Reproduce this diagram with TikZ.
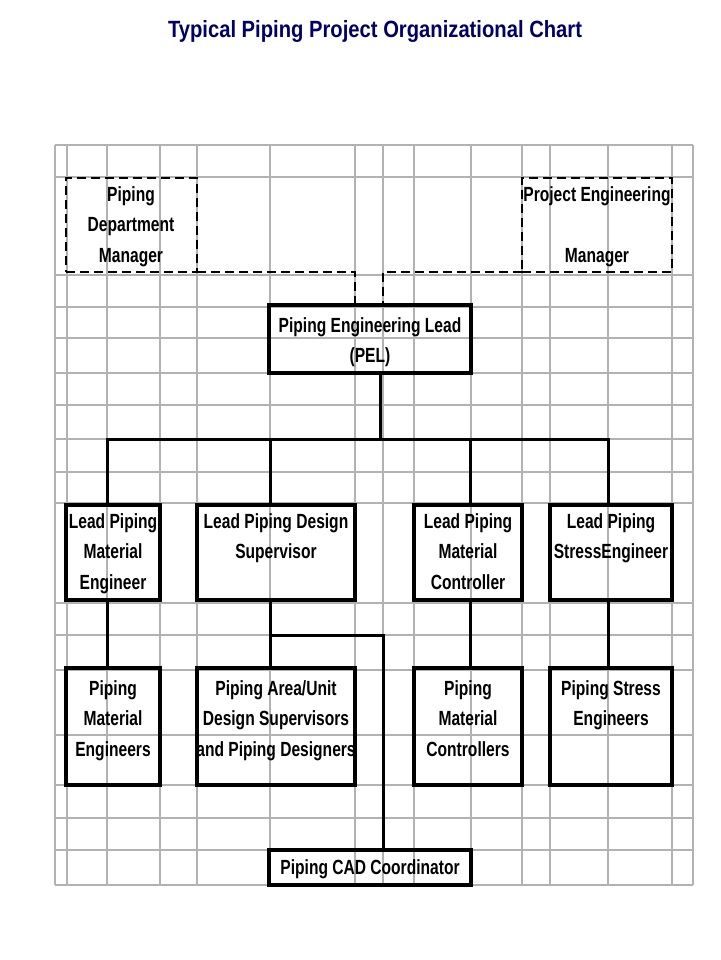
\documentclass[tikz,border=0pt]{standalone}
\usepackage{fontspec}
\setmainfont{Liberation Sans}[FakeStretch=0.76]
\newfontfamily\titlefont{Liberation Sans}[FakeStretch=0.86]
\begin{document}
\begin{tikzpicture}[x=1pt,y=-1pt,
  grid/.style={draw=gray!60,line width=1.3pt},
  box/.style={draw=black,line width=3.5pt,inner sep=0pt,outer sep=0pt,anchor=north west},
  dbox/.style={draw=black,line width=2.5pt,dash pattern=on 9pt off 5pt,inner sep=0pt,outer sep=0pt,anchor=north west},
  conn/.style={line width=3pt},
  dconn/.style={line width=2.5pt,dash pattern=on 9pt off 5pt},
  txt/.style={font=\bfseries\fontsize{20.5}{30.5}\selectfont,align=center,anchor=north,inner sep=0pt}]
\useasboundingbox (0,0) rectangle (720,960);
\fill[white] (0,0) rectangle (720,960);
\node[font=\titlefont\bfseries\fontsize{23.5}{26}\selectfont,text=blue!40!black] (title) at (375,31) {Typical Piping Project Organizational Chart};
% grid
\foreach \x in {55,67,107,160,197,270,355,383,414,471,522,550,608,672,693}
  \draw[grid] (\x,145) -- (\x,885);
\foreach \y in {145,177,275,307,338,373,405,439,472,503,603,635,670,735,785,818,850,885}
  \draw[grid] (55,\y) -- (693,\y);
% boxes
\node[dbox,minimum width=131pt,minimum height=94pt] (pdm) at (66,178) {};
\node[dbox,minimum width=150pt,minimum height=94pt] (pem) at (522,178) {};
\node[box,minimum width=202pt,minimum height=68pt] (pel) at (269,305) {};
\node[box,minimum width=94pt,minimum height=95pt] (lpme) at (66,505) {};
\node[box,minimum width=158pt,minimum height=95pt] (lpds) at (197,505) {};
\node[box,minimum width=108pt,minimum height=95pt] (lpmc) at (414,505) {};
\node[box,minimum width=122pt,minimum height=95pt] (lpse) at (550,505) {};
\node[box,minimum width=94pt,minimum height=117pt] (pme) at (66,668) {};
\node[box,minimum width=158pt,minimum height=117pt] (pau) at (197,668) {};
\node[box,minimum width=108pt,minimum height=117pt] (pmc) at (414,668) {};
\node[box,minimum width=122pt,minimum height=117pt] (pse) at (550,668) {};
\node[box,minimum width=202pt,minimum height=35pt] (cad) at (269,850) {};
% texts
\node[txt] (t1) at (131,186) {Piping\\Department\\Manager};
\node[txt] (t2) at (597,186) {Project Engineering\\\\Manager};
\node[txt] (t3) at (370,317) {Piping Engineering Lead\\(PEL)};
\node[txt] (t4) at (113,513) {Lead Piping\\Material\\Engineer};
\node[txt] (t5) at (276,513) {Lead Piping Design\\Supervisor};
\node[txt] (t6) at (468,513) {Lead Piping\\Material\\Controller};
\node[txt] (t7) at (611,513) {Lead Piping\\StressEngineer};
\node[txt] (t8) at (113,680) {Piping\\Material\\Engineers};
\node[txt] (t9) at (276,680) {Piping Area/Unit\\Design Supervisors\\and Piping Designers};
\node[txt] (t10) at (468,680) {Piping\\Material\\Controllers};
\node[txt] (t11) at (611,680) {Piping Stress\\Engineers};
\node[txt] (t12) at (370,859) {Piping CAD Coordinator};
% connectors
\coordinate (b1) at (380,439);
\draw[dconn] (pdm.south east) -- (355,272) -- (355,305);
\draw[dconn] (pem.south west) -- (383,272) -- (383,305);
\draw[conn] (380,373) -- (b1);
\draw[conn] (107,505) -- (107,439) -- (608,439) -- (608,505);
\draw[conn] (270,439) -- (270,505);
\draw[conn] (470,439) -- (470,505);
\draw[conn] (107,600) -- (107,668);
\draw[conn] (270,600) -- (270,668);
\draw[conn] (270,635) -- (383,635) -- (383,850);
\draw[conn] (470,600) -- (470,668);
\draw[conn] (608,600) -- (608,668);
\end{tikzpicture}
\end{document}
